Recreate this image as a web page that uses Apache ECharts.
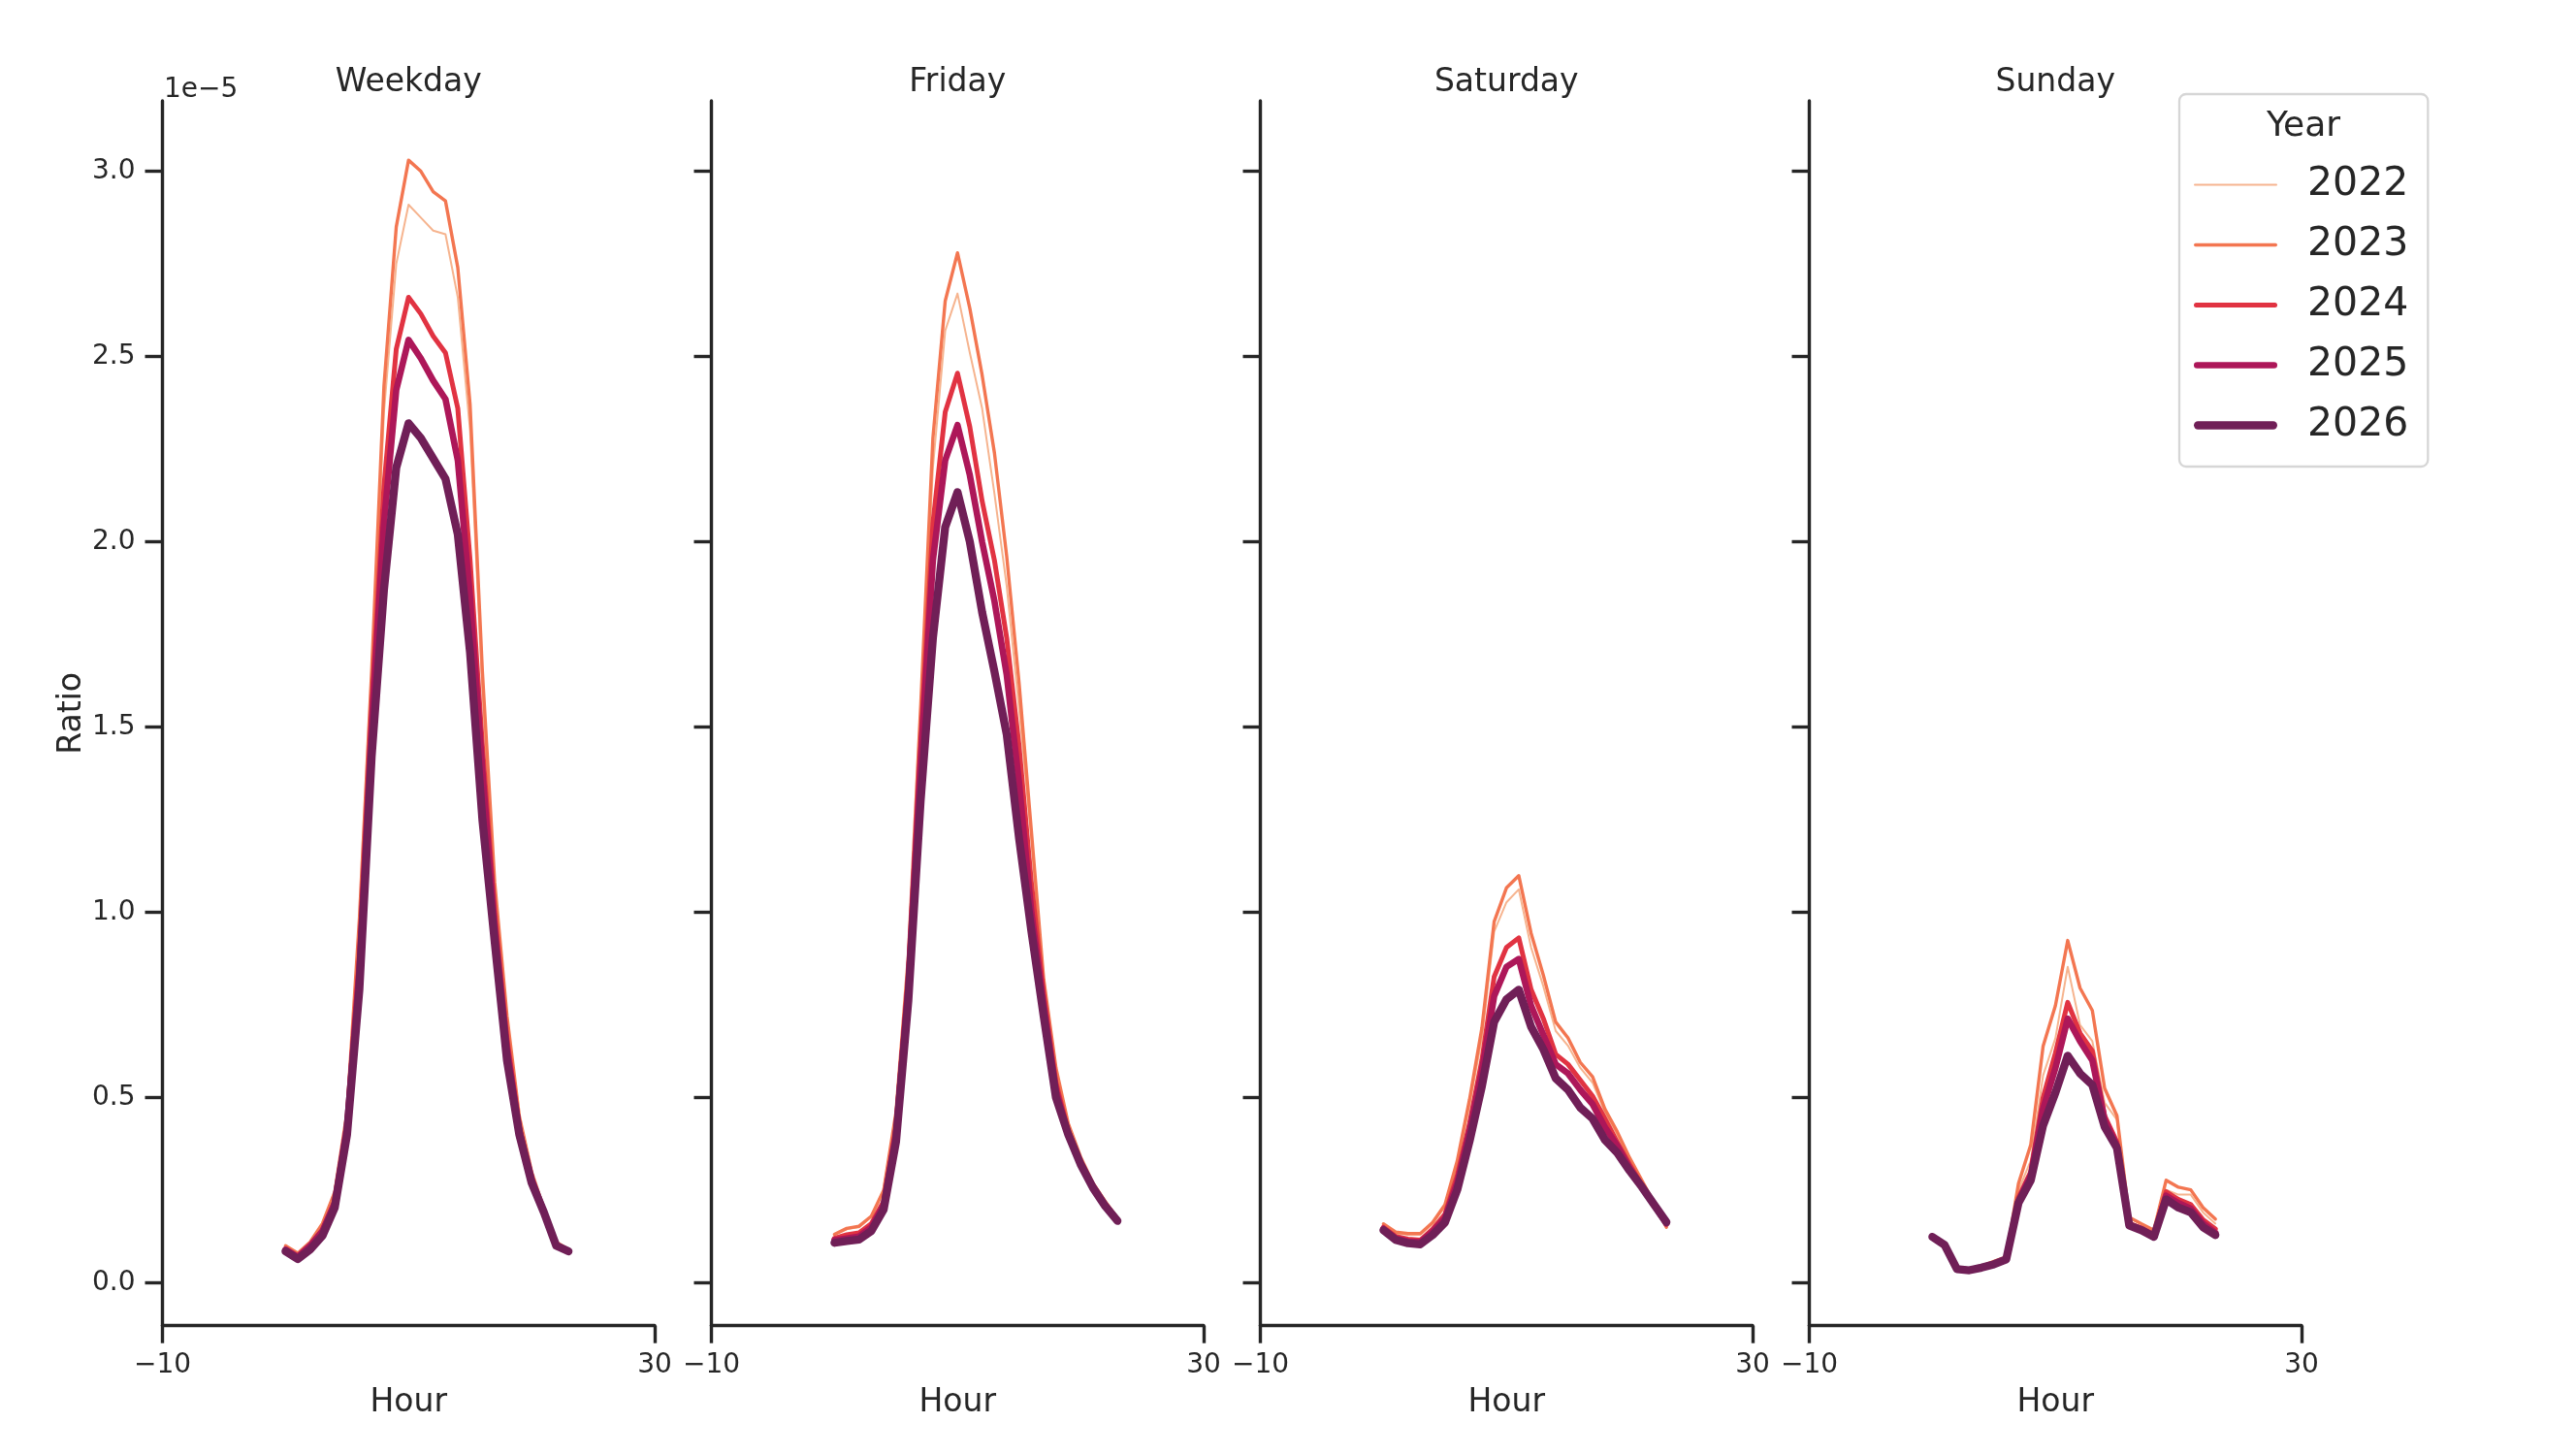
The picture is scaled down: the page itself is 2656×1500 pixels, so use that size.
<!DOCTYPE html>
<html>
<head>
<meta charset="utf-8">
<script src="https://cdn.jsdelivr.net/npm/echarts@6/dist/echarts.min.js"></script>
<style>
html,body{margin:0;padding:0;background:#fff;}
#chart{width:2656px;height:1500px;}
</style>
</head>
<body>
<div id="chart"></div>
<script>
// ---------- data ----------
const hours = [0,1,2,3,4,5,6,7,8,9,10,11,12,13,14,15,16,17,18,19,20,21,22,23];
const years = ['2022','2023','2024','2025','2026'];
const panelNames = ['Weekday','Friday','Saturday','Sunday'];
const xTicks = [-10, 30];
const yTicks = [0, 0.5, 1.0, 1.5, 2.0, 2.5, 3.0];

// values in units of 1e-5
const weekday2022 = [0.10,0.08,0.11,0.16,0.24,0.45,0.95,1.60,2.35,2.75,2.91,2.875,2.84,2.83,2.66,2.30,1.60,1.05,0.70,0.45,0.30,0.20,0.11,0.09];
const weekday2023 = [0.10,0.08,0.11,0.16,0.245,0.46,0.98,1.65,2.42,2.85,3.03,3.00,2.945,2.92,2.74,2.37,1.65,1.08,0.72,0.45,0.30,0.20,0.11,0.09];
const weekday2024 = [0.09,0.07,0.10,0.14,0.22,0.43,0.88,1.55,2.15,2.52,2.66,2.615,2.555,2.51,2.36,1.95,1.45,1.00,0.66,0.42,0.28,0.19,0.10,0.085];
const weekday2025 = [0.09,0.07,0.10,0.14,0.215,0.42,0.84,1.50,2.05,2.41,2.545,2.495,2.435,2.385,2.22,1.85,1.38,0.96,0.63,0.41,0.28,0.19,0.10,0.085];
const weekday2026 = [0.085,0.064,0.09,0.127,0.203,0.40,0.79,1.42,1.87,2.20,2.32,2.28,2.225,2.17,2.02,1.70,1.25,0.92,0.60,0.40,0.27,0.19,0.10,0.085];

const friday2022 = [0.13,0.145,0.15,0.18,0.25,0.45,0.85,1.50,2.20,2.57,2.67,2.51,2.36,2.13,1.88,1.55,1.20,0.80,0.57,0.42,0.33,0.27,0.22,0.175];
const friday2023 = [0.131,0.147,0.153,0.18,0.25,0.46,0.88,1.55,2.28,2.65,2.78,2.63,2.45,2.24,1.96,1.62,1.22,0.82,0.58,0.43,0.34,0.27,0.22,0.175];
const friday2024 = [0.12,0.13,0.135,0.16,0.22,0.42,0.82,1.45,2.05,2.35,2.455,2.31,2.11,1.95,1.74,1.45,1.08,0.78,0.54,0.41,0.33,0.26,0.21,0.17];
const friday2025 = [0.115,0.12,0.125,0.15,0.21,0.40,0.80,1.40,1.95,2.22,2.315,2.18,2.00,1.84,1.64,1.35,1.00,0.75,0.52,0.40,0.32,0.26,0.21,0.168];
const friday2026 = [0.108,0.113,0.117,0.14,0.198,0.38,0.76,1.30,1.74,2.04,2.134,2.00,1.81,1.65,1.48,1.20,0.95,0.72,0.50,0.40,0.32,0.257,0.207,0.167];

const saturday2022 = [0.155,0.133,0.13,0.13,0.16,0.205,0.32,0.48,0.66,0.948,1.027,1.062,0.905,0.80,0.68,0.64,0.58,0.54,0.46,0.40,0.335,0.275,0.215,0.155];
const saturday2023 = [0.159,0.137,0.133,0.133,0.163,0.211,0.329,0.495,0.687,0.975,1.066,1.099,0.944,0.83,0.704,0.661,0.595,0.556,0.469,0.408,0.338,0.277,0.216,0.15];
const saturday2024 = [0.15,0.125,0.118,0.115,0.145,0.185,0.29,0.43,0.60,0.826,0.905,0.931,0.792,0.713,0.617,0.59,0.547,0.504,0.443,0.38,0.32,0.265,0.215,0.16];
const saturday2025 = [0.146,0.12,0.112,0.11,0.138,0.175,0.27,0.41,0.57,0.774,0.853,0.874,0.748,0.669,0.59,0.565,0.521,0.482,0.42,0.37,0.31,0.26,0.21,0.16];
const saturday2026 = [0.142,0.116,0.107,0.104,0.129,0.163,0.251,0.382,0.53,0.704,0.765,0.791,0.691,0.63,0.552,0.521,0.473,0.443,0.386,0.351,0.303,0.259,0.211,0.164];

const sunday2022 = [0.125,0.105,0.04,0.036,0.043,0.055,0.068,0.25,0.33,0.56,0.66,0.853,0.696,0.652,0.486,0.44,0.165,0.15,0.133,0.251,0.238,0.238,0.19,0.16];
const sunday2023 = [0.127,0.105,0.04,0.037,0.045,0.058,0.07,0.268,0.373,0.639,0.748,0.924,0.796,0.735,0.525,0.451,0.177,0.159,0.142,0.277,0.258,0.251,0.203,0.172];
const sunday2024 = [0.125,0.103,0.038,0.035,0.042,0.052,0.065,0.23,0.30,0.50,0.62,0.757,0.674,0.626,0.451,0.38,0.16,0.147,0.13,0.246,0.225,0.211,0.17,0.145];
const sunday2025 = [0.124,0.102,0.037,0.034,0.041,0.051,0.064,0.22,0.29,0.47,0.58,0.713,0.652,0.60,0.44,0.37,0.157,0.145,0.127,0.235,0.215,0.20,0.16,0.135];
const sunday2026 = [0.124,0.102,0.037,0.034,0.041,0.050,0.063,0.216,0.277,0.425,0.513,0.613,0.565,0.534,0.421,0.364,0.155,0.142,0.124,0.225,0.203,0.19,0.15,0.129];

const panelData = [
  [weekday2022, weekday2023, weekday2024, weekday2025, weekday2026],
  [friday2022, friday2023, friday2024, friday2025, friday2026],
  [saturday2022, saturday2023, saturday2024, saturday2025, saturday2026],
  [sunday2022, sunday2023, sunday2024, sunday2025, sunday2026]
];

// ---------- style ----------
const colors = ['#f6b48f', '#f37651', '#e13342', '#ad1759', '#701f57'];
const widths = [2.0, 3.4, 5.0, 6.6, 8.3];
const ink = '#262626';
const FONT = 'DejaVu Sans';

const gridLeft0 = 167.5, gridStep = 566, gridW = 507.5, gridTop = 104, gridH = 1262.7;

// legend icon: a rounded bar whose thickness equals the series line width
function barIcon(h) {
  const W = 86, r = h / 2;
  return 'path://M' + r + ' 0H' + (W - r) + 'A' + r + ' ' + r + ' 0 0 1 ' + (W - r) + ' ' + h +
         'H' + r + 'A' + r + ' ' + r + ' 0 0 1 ' + r + ' 0Z';
}

const grids = [], xAxes = [], yAxes = [], series = [], graphics = [];
panelNames.forEach((name, p) => {
  const left = gridLeft0 + p * gridStep;
  grids.push({left: left, top: gridTop, width: gridW, height: gridH, containLabel: false});
  xAxes.push({
    type: 'value', gridIndex: p, min: -10, max: 30,
    name: 'Hour', nameLocation: 'middle', nameGap: 63,
    nameTextStyle: {fontFamily: FONT, fontSize: 33, color: ink},
    axisLine: {show: true, onZero: false, lineStyle: {color: ink, width: 3.4}},
    axisTick: {show: true, length: 18, inside: false, customValues: xTicks, lineStyle: {color: ink, width: 3.4}},
    axisLabel: {show: true, customValues: xTicks, margin: 27, fontFamily: FONT, fontSize: 28, color: ink,
      formatter: v => (v < 0 ? '\u2212' + Math.abs(v) : String(v))},
    splitLine: {show: false}
  });
  yAxes.push({
    type: 'value', gridIndex: p, min: -0.1157, max: 3.19,
    name: p === 0 ? 'Ratio' : '', nameLocation: 'middle', nameGap: 77, nameRotate: 90,
    nameTextStyle: {fontFamily: FONT, fontSize: 33, color: ink},
    axisLine: {show: true, onZero: false, lineStyle: {color: ink, width: 3.4}},
    axisTick: {show: true, length: 18, inside: false, customValues: yTicks, lineStyle: {color: ink, width: 3.4}},
    axisLabel: {show: p === 0, customValues: yTicks, margin: 28, fontFamily: FONT, fontSize: 28, color: ink,
      formatter: v => v.toFixed(1)},
    splitLine: {show: false}
  });
  years.forEach((yr, k) => {
    series.push({
      type: 'line', name: yr, xAxisIndex: p, yAxisIndex: p,
      data: hours.map((h, i) => [h, panelData[p][k][i]]),
      showSymbol: false, symbol: 'none', smooth: false,
      lineStyle: {color: colors[k], width: widths[k], cap: 'round', join: 'round'},
      itemStyle: {color: colors[k]},
      emphasis: {disabled: true}, silent: true, z: 2 + k
    });
  });
  graphics.push({
    type: 'text', x: left + gridW / 2, y: 85,
    style: {text: name, fontFamily: FONT, fontSize: 33, fill: ink, align: 'center', verticalAlign: 'middle'}
  });
});

graphics.push({
  type: 'text', x: 169, y: 93,
  style: {text: '1e\u22125', fontFamily: FONT, fontSize: 28, fill: ink, align: 'left', verticalAlign: 'middle'}
});
graphics.push({
  type: 'text', x: 2375, y: 131, z: 100,
  style: {text: 'Year', fontFamily: FONT, fontSize: 36, fill: ink, align: 'center', verticalAlign: 'middle'}
});

const option = {
  animation: false,
  backgroundColor: '#ffffff',
  grid: grids,
  xAxis: xAxes,
  yAxis: yAxes,
  series: series,
  legend: {
    orient: 'vertical', left: 2247, top: 97,
    data: years.map((yr, k) => ({name: yr, icon: barIcon(widths[k]), itemStyle: {color: colors[k]}})),
    padding: [73, 20, 22, 15],
    itemWidth: 86, itemHeight: 42, itemGap: 21,
    backgroundColor: '#ffffff', borderColor: '#d6d6d6', borderWidth: 2.3, borderRadius: 7,
    textStyle: {fontFamily: FONT, fontSize: 41, color: ink, padding: [0, 0, 0, 26]},
    selectedMode: false
  },
  graphic: graphics
};

const chart = echarts.init(document.getElementById('chart'), null, {renderer: 'canvas'});
chart.setOption(option);
</script>
</body>
</html>
